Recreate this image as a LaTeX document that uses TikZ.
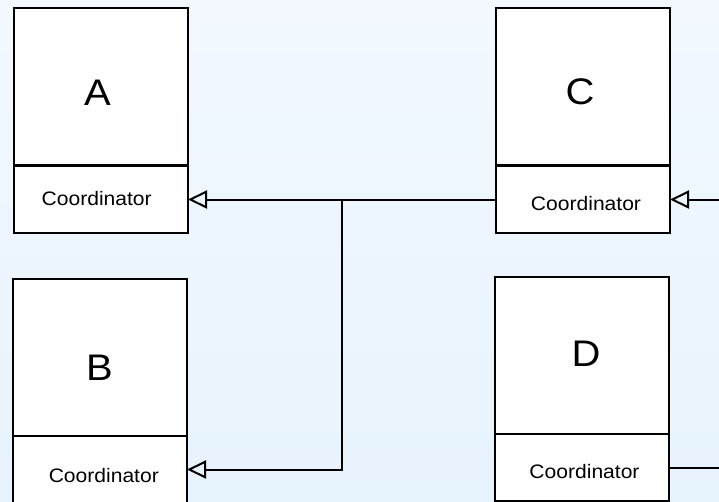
\documentclass[tikz,border=0pt]{standalone}
\usepackage{fontspec}
\setmainfont{Liberation Sans}[FakeStretch=1.08]
\usetikzlibrary{arrows.meta}
\definecolor{bgtop}{RGB}{242,248,254}
\definecolor{bgbot}{RGB}{231,243,253}
\begin{document}
\begin{tikzpicture}[x=1pt,y=-1pt,
  cell/.style={draw=black,line width=2pt,fill=white,rectangle,inner sep=0pt,outer sep=0pt,anchor=north west,minimum width=174pt},
  head/.style={cell,minimum height=157pt},
  coord/.style={cell,minimum height=67pt},
  title/.style={font=\fontsize{37}{40}\selectfont,anchor=base,inner sep=0pt},
  role/.style={font=\fontsize{19.5}{22}\selectfont,anchor=base,inner sep=0pt},
  link/.style={line width=2pt,draw=black},
  inherit/.style={link,-{Triangle[open,length=19pt,width=18pt]}}]
  \useasboundingbox (0,0) rectangle (719,501);
  \clip (0,0) rectangle (719,501);
  \fill[top color=bgtop,bottom color=bgbot] (0,0) rectangle (719,501);

  % class boxes: a header cell and a coordinator cell each
  \node[head]  (A)  at (14,8) {};
  \node[coord] (Ac) at (14,166) {};
  \node[head]  (C)  at (496,8) {};
  \node[coord] (Cc) at (496,166) {};
  \node[head]  (B)  at (13,279) {};
  \node[coord] (Bc) at (13,436) {};
  \node[head]  (D)  at (495,277) {};
  \node[coord] (Dc) at (495,434) {};

  % labels
  \node[title] (tA) at (97.5,105) {A};
  \node[title] (tC) at (580,104.5) {C};
  \node[title] (tB) at (99.5,380.7) {B};
  \node[title] (tD) at (586,366) {D};
  \node[role] (rA) at (96.7,205) {Coordinator};
  \node[role] (rC) at (586,210.7) {Coordinator};
  \node[role] (rB) at (103.8,482.7) {Coordinator};
  \node[role] (rD) at (584.5,478.3) {Coordinator};

  % connectors
  \coordinate (j) at (342,199.5);
  \coordinate (edge) at (730,0);
  \draw[inherit] (Cc.west) -- (Ac.east);
  \draw[inherit] (j) |- (Bc.east);
  \draw[inherit] (edge |- Cc.east) -- (Cc.east);
  \draw[link] (Dc.east) -- (edge |- Dc.east);
\end{tikzpicture}
\end{document}
